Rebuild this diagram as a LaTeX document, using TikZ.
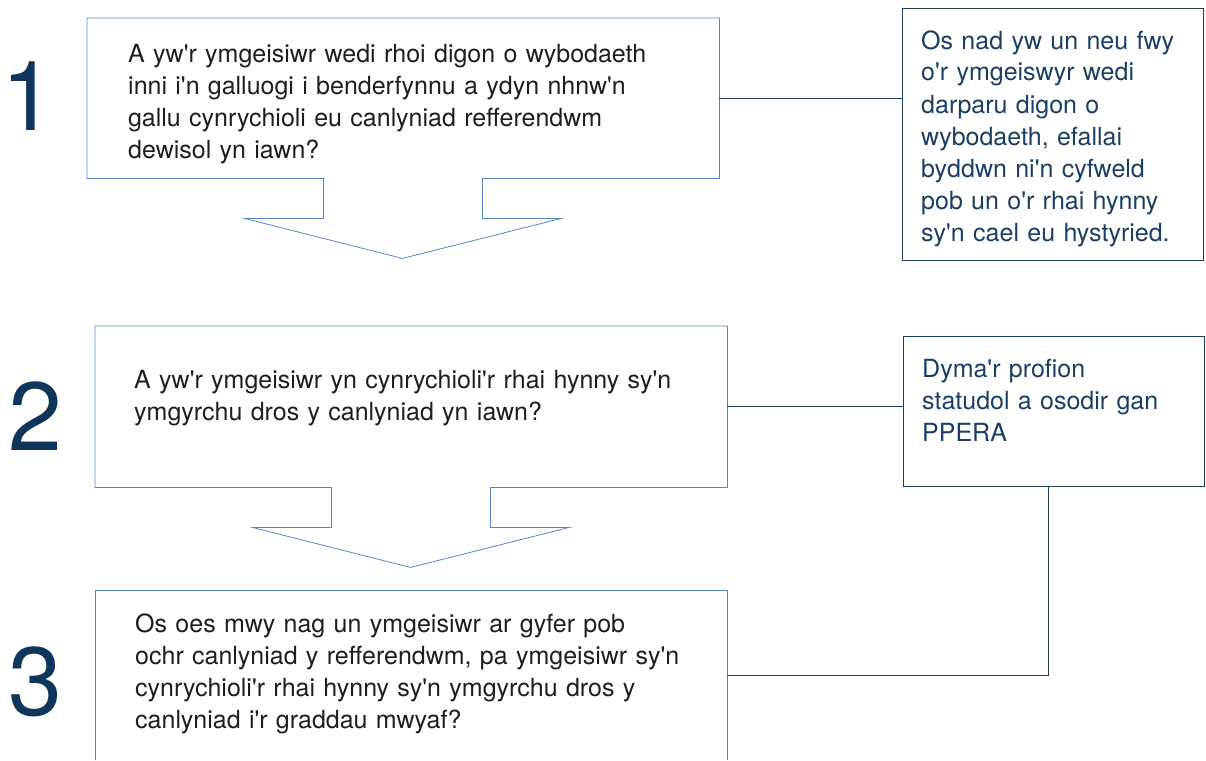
\documentclass[tikz,border=0pt]{standalone}
\usepackage{fontspec}
\setmainfont{TeX Gyre Heros}[Ligatures=TeXOff]
\usetikzlibrary{positioning}

\definecolor{navy}{HTML}{10355A}
\definecolor{notenavy}{HTML}{1C3E64}
\definecolor{boxblue}{HTML}{5587C8}
\definecolor{textgrey}{HTML}{1E1E1E}

\begin{document}
\begin{tikzpicture}[
  x=1pt, y=-1pt,
  qbox/.style={minimum width=632pt, inner sep=0pt, anchor=north west},
  notebox/.style={draw=notenavy, thick, minimum width=301pt, inner sep=0pt, anchor=north west},
  callout/.style={draw=boxblue, thick, line join=miter},
  qtext/.style={text=textgrey, text width=600pt, align=left, inner sep=0pt, anchor=base west,
    font=\fontsize{25}{32}\selectfont},
  notetext/.style={text=notenavy, text width=280pt, align=left, inner sep=0pt, anchor=base west,
    font=\fontsize{25}{32}\selectfont},
  stepnum/.style={text=navy, inner sep=0pt, anchor=base west, font=\fontsize{97}{97}\selectfont},
  link/.style={draw=notenavy, thick}
]
\useasboundingbox (0,0) rectangle (1206,760);

% question boxes
\node[qbox, minimum height=160pt] (q1) at (87,18) {};
\node[qbox, minimum height=161pt] (q2) at (95,326) {};
\node[qbox, minimum height=170pt] (q3) at (95,590) {};

% note boxes
\node[notebox, minimum height=252pt] (n1) at (902,8) {};
\node[notebox, minimum height=150pt] (n2) at (903,336) {};

% box outlines with the down arrows
\draw[callout] (q1.north west) -- (q1.north east) -- (q1.south east) -- ++(-237,0) -- ++(0,40)
  -- ++(79,0) -- ++(-159,40) -- ++(-158,-40) -- ++(79,0) -- ++(0,-40) -- (q1.south west) -- cycle;
\draw[callout] (q2.north west) -- (q2.north east) -- (q2.south east) -- ++(-237,0) -- ++(0,40)
  -- ++(79,0) -- ++(-159,40) -- ++(-158,-40) -- ++(79,0) -- ++(0,-40) -- (q2.south west) -- cycle;
\draw[callout] (q3.south west) -- (q3.north west) -- (q3.north east) -- (q3.south east);

% step numbers
\node[stepnum] (num1) at (1,130) {1};
\node[stepnum] (num2) at (8,450) {2};
\node[stepnum] (num3) at (8,715) {3};

% texts
\node[qtext] (t1) at (128,63) {A yw'r ymgeisiwr wedi rhoi digon o wybodaeth\\ inni i'n galluogi i benderfynnu a ydyn nhnw'n\\ gallu cynrychioli eu canlyniad refferendwm\\ dewisol yn iawn?};
\node[qtext] (t2) at (134,388) {A yw'r ymgeisiwr yn cynrychioli'r rhai hynny sy'n\\ ymgyrchu dros y canlyniad yn iawn?};
\node[qtext] (t3) at (135,632) {Os oes mwy nag un ymgeisiwr ar gyfer pob\\ ochr canlyniad y refferendwm, pa ymgeisiwr sy'n\\ cynrychioli'r rhai hynny sy'n ymgyrchu dros y\\ canlyniad i'r graddau mwyaf?};
\node[notetext] (m1) at (921,49) {Os nad yw un neu fwy\\ o'r ymgeiswyr wedi\\ darparu digon o\\ wybodaeth, efallai\\ byddwn ni'n cyfweld\\ pob un o'r rhai hynny\\ sy'n cael eu hystyried.};
\node[notetext] (m2) at (922,377) {Dyma'r profion\\ statudol a osodir gan\\ PPERA};

% connectors
\draw[link] (q1.east) -- (q1.east -| n1.west);
\draw[link] (q2.east) -- (q2.east -| n2.west);
\draw[link] ([xshift=-6pt]n2.south) |- (q3.east);
\end{tikzpicture}
\end{document}
